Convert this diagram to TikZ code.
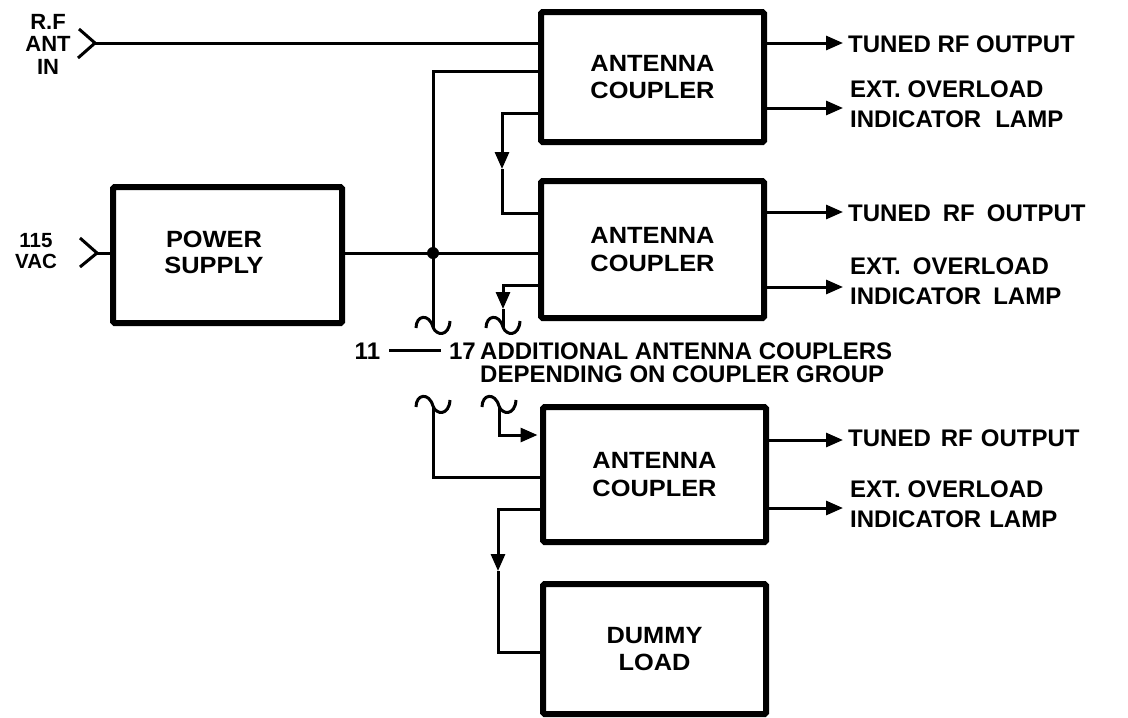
\documentclass[tikz,border=0pt]{standalone}
\usepackage{fontspec}
\setmainfont{Liberation Sans}[FakeStretch=1.08]
\newfontfamily\plainsans{Liberation Sans}
\usetikzlibrary{arrows.meta}
\begin{document}
\begin{tikzpicture}[x=1pt,y=-1pt,
  box/.style={draw, line width=6pt, rounded corners=1.5pt, inner sep=0pt,
              font=\fontsize{23.5}{27.5}\selectfont\bfseries, align=center},
  boxtext/.style={inner sep=0pt, font=\fontsize{23.5}{26}\selectfont\bfseries, align=center},
  wire/.style={line width=3pt},
  arr/.style={wire, -{Triangle[length=17pt,width=14pt]}},
  outlbl/.style={anchor=west, inner sep=0pt, align=left,
                 font=\plainsans\fontsize{24}{30}\selectfont\bfseries},
  inlbl/.style={inner sep=0pt, align=center,
                font=\plainsans\fontsize{22}{22.5}\selectfont\bfseries},
  notelbl/.style={anchor=base west, inner sep=0pt,
                  font=\plainsans\fontsize{24}{23}\selectfont\bfseries},
  squig/.pic={\draw[wire] (-17,1) .. controls (-17,-12) and (-4,-14) .. (0,0)
                 .. controls (3,9) and (16,10) .. (17,-6);}
]
\useasboundingbox (0,0) rectangle (1128,718);

% boxes
\node[box, minimum width=223pt, minimum height=130pt] (b1) at (652.5,77) {ANTENNA\\COUPLER};
\node[box, minimum width=223pt, minimum height=137pt] (b2) at (652.5,249.5) {ANTENNA\\COUPLER};
\node[box, minimum width=223pt, minimum height=135pt] (b3) at (654.5,474.5) {ANTENNA\\COUPLER};
\node[box, minimum width=223pt, minimum height=130pt] (dl) at (654.5,649) {DUMMY\\LOAD};
\node[box, minimum width=229pt, minimum height=136pt] (ps) at (227.5,255) {};
\node[boxtext] (pst) at (214,252) {POWER\\SUPPLY};

% input labels
\node[inlbl] (rflbl) at (48,44) {R.F\\ANT\\IN};
\node[inlbl, font=\plainsans\fontsize{20.5}{21.5}\selectfont\bfseries] (aclbl) at (36,251) {115\\VAC};

% RF input
\coordinate (rfin) at (95,43);
\draw[wire] (79,29) -- (rfin) -- (78,58);
\draw[wire] (rfin) -- (rfin -| b1.west);

% AC input
\coordinate (acin) at (97,253);
\draw[wire] (80,238) -- (acin) -- (80,267);
\draw[wire] (acin) -- (acin -| ps.west);

% power distribution
\coordinate (j) at (433,253);
\coordinate (p1) at (433,71);
\coordinate (s1) at (433,327);
\draw[wire] (j -| ps.east) -- (j) -- (j -| b2.west);
\draw[wire] (s1) -- (p1) -- (p1 -| b1.west);
\fill (j) circle (6pt);
\pic at (s1) {squig};

% coupler 1 -> coupler 2
\coordinate (a1) at (502,113);
\coordinate (a1t) at (502,169);
\coordinate (a1e) at (502,213);
\draw[arr] (a1 -| b1.west) -- (a1) -- (a1t);
\draw[wire] (a1t) -- (a1e) -- (a1e -| b2.west);

% coupler 2 -> onward
\coordinate (o2) at (503,285);
\coordinate (o2t) at (503,309);
\coordinate (s2) at (503,327);
\draw[arr] (o2 -| b2.west) -- (o2) -- (o2t);
\draw[wire] (o2t) -- (s2);
\pic at (s2) {squig};

% note
\node[notelbl] (note1) at (480,359) {ADDITIONAL ANTENNA COUPLERS};
\node[notelbl] (note2) at (480,382) {DEPENDING ON COUPLER GROUP};
\node[notelbl, anchor=base east] (rng) at (476,359) {11\hspace{9pt}\rule[7pt]{52pt}{3pt}\hspace{8pt}17};

% continuation to last coupler
\coordinate (s3) at (433,406);
\coordinate (p3) at (433,477);
\coordinate (s4) at (499,406);
\coordinate (p4) at (499,435);
\pic at (s3) {squig};
\pic at (s4) {squig};
\draw[wire] (s3) -- (p3) -- (p3 -| b3.west);
\draw[arr, shorten >=2.5pt] (s4) -- (p4) -- (p4 -| b3.west);

% last coupler -> dummy load
\coordinate (p5) at (498,509);
\coordinate (p6) at (498,571);
\coordinate (p7) at (498,652);
\draw[arr] (p5 -| b3.west) -- (p5) -- (p6);
\draw[wire] (p6) -- (p7) -- (p7 -| dl.west);

% outputs coupler 1
\node[outlbl] (t1) at (848,44) {TUNED RF OUTPUT};
\node[outlbl] (e1) at (850,104.5) {EXT. OVERLOAD\\INDICATOR\hspace{14pt}LAMP};
\coordinate (t1a) at (843,43);
\coordinate (e1a) at (843,108);
\draw[arr] (t1a -| b1.east) -- (t1a);
\draw[arr] (e1a -| b1.east) -- (e1a);

% outputs coupler 2
\node[outlbl] (t2) at (848,213) {TUNED\hspace{12pt}RF\hspace{12pt}OUTPUT};
\node[outlbl] (e2) at (850,281.5) {EXT.\hspace{12pt}OVERLOAD\\INDICATOR\hspace{12pt}LAMP};
\coordinate (t2a) at (843,212);
\coordinate (e2a) at (843,287);
\draw[arr] (t2a -| b2.east) -- (t2a);
\draw[arr] (e2a -| b2.east) -- (e2a);

% outputs coupler 3
\node[outlbl] (t3) at (848,438) {TUNED\hspace{10pt}RF\hspace{8pt}OUTPUT};
\node[outlbl] (e3) at (850,504) {EXT. OVERLOAD\\INDICATOR\hspace{8pt}LAMP};
\coordinate (t3a) at (843,440);
\coordinate (e3a) at (843,508);
\draw[arr] (t3a -| b3.east) -- (t3a);
\draw[arr] (e3a -| b3.east) -- (e3a);
\end{tikzpicture}
\end{document}
